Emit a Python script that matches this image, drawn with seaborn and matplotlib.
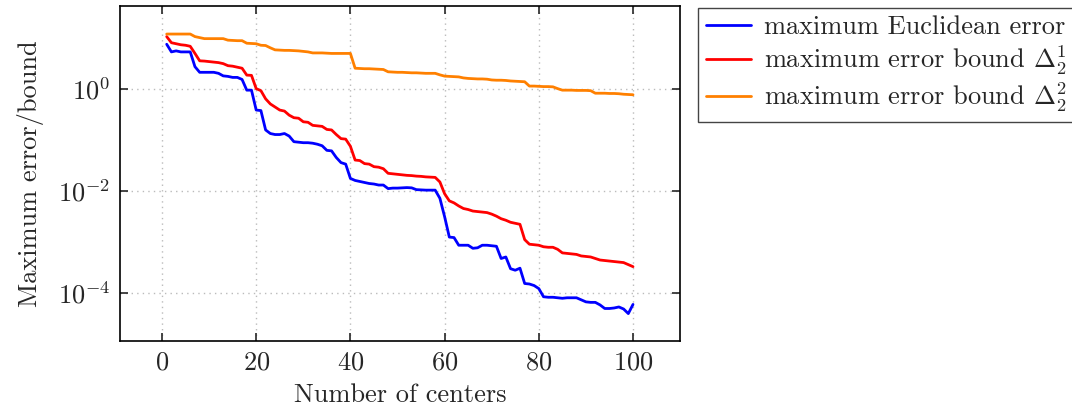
import numpy as np
import pandas as pd
import matplotlib
matplotlib.use("Agg")
import matplotlib.pyplot as plt
import matplotlib.ticker as mticker
import seaborn as sns

# number of centers 1..100
centers = list(range(1, 101))

# values, stored as log10
euclid_log10 = [
    0.87, 0.72, 0.74, 0.72, 0.72, 0.72, 0.43, 0.32, 0.32, 0.32,
    0.32, 0.30, 0.25, 0.24, 0.22, 0.22, 0.18, -0.03, -0.03, -0.42,
    -0.43, -0.81, -0.88, -0.90, -0.90, -0.88, -0.93, -1.04, -1.05, -1.06,
    -1.06, -1.07, -1.09, -1.12, -1.21, -1.22, -1.35, -1.45, -1.48, -1.76,
    -1.80, -1.82, -1.84, -1.86, -1.87, -1.89, -1.89, -1.96, -1.95, -1.95,
    -1.945, -1.94, -1.945, -1.98, -1.985, -1.99, -1.99, -1.99, -2.15, -2.51,
    -2.91, -2.92, -3.07, -3.07, -3.07, -3.13, -3.12, -3.07, -3.07, -3.08,
    -3.09, -3.33, -3.30, -3.53, -3.56, -3.52, -3.82, -3.83, -3.86, -3.92,
    -4.08, -4.09, -4.09, -4.10, -4.11, -4.10, -4.10, -4.10, -4.14, -4.18,
    -4.19, -4.19, -4.24, -4.31, -4.31, -4.30, -4.28, -4.32, -4.41, -4.23,
]
bound1_log10 = [
    1.02, 0.90, 0.88, 0.86, 0.85, 0.83, 0.69, 0.545, 0.54, 0.53,
    0.52, 0.51, 0.49, 0.45, 0.44, 0.42, 0.40, 0.265, 0.26, 0.0,
    -0.04, -0.20, -0.30, -0.36, -0.42, -0.44, -0.52, -0.57, -0.58, -0.65,
    -0.66, -0.72, -0.73, -0.74, -0.80, -0.81, -0.90, -0.98, -0.99, -1.13,
    -1.40, -1.41, -1.47, -1.48, -1.53, -1.54, -1.57, -1.66, -1.67, -1.68,
    -1.69, -1.70, -1.705, -1.715, -1.72, -1.73, -1.735, -1.74, -1.83, -2.06,
    -2.20, -2.24, -2.30, -2.35, -2.37, -2.40, -2.41, -2.42, -2.43, -2.46,
    -2.50, -2.55, -2.58, -2.62, -2.64, -2.66, -2.96, -3.05, -3.06, -3.07,
    -3.10, -3.11, -3.11, -3.15, -3.22, -3.23, -3.24, -3.25, -3.28, -3.29,
    -3.30, -3.33, -3.36, -3.37, -3.38, -3.39, -3.40, -3.41, -3.45, -3.49,
]
bound2_log10 = [
    1.07, 1.07, 1.07, 1.07, 1.07, 1.07, 1.02, 1.00, 0.98, 0.98,
    0.98, 0.98, 0.98, 0.95, 0.945, 0.94, 0.94, 0.89, 0.885, 0.88,
    0.85, 0.845, 0.80, 0.76, 0.755, 0.75, 0.75, 0.745, 0.74, 0.73,
    0.72, 0.70, 0.70, 0.70, 0.695, 0.69, 0.69, 0.69, 0.69, 0.69,
    0.40, 0.395, 0.39, 0.39, 0.385, 0.38, 0.375, 0.33, 0.325, 0.32,
    0.32, 0.315, 0.31, 0.31, 0.305, 0.30, 0.30, 0.30, 0.27, 0.245,
    0.24, 0.235, 0.23, 0.21, 0.20, 0.195, 0.19, 0.19, 0.185, 0.17,
    0.165, 0.165, 0.16, 0.15, 0.145, 0.14, 0.135, 0.05, 0.05, 0.045,
    0.04, 0.04, 0.035, 0.0, -0.03, -0.03, -0.03, -0.035, -0.035, -0.035,
    -0.04, -0.09, -0.09, -0.09, -0.095, -0.095, -0.10, -0.11, -0.115, -0.12,
]

labels = [
    "maximum Euclidean error",
    r"maximum error bound $\Delta_2^1$",
    r"maximum error bound $\Delta_2^2$",
]
colors = ["#0000ff", "#ff0000", "#ff8000"]

frames = []
for lab, vals in zip(labels, [euclid_log10, bound1_log10, bound2_log10]):
    frames.append(pd.DataFrame({"centers": centers,
                                "value": 10.0 ** np.array(vals),
                                "series": lab}))
df = pd.concat(frames, ignore_index=True)

sns.set_style("ticks")
plt.rcParams["font.family"] = ["cmr10", "DejaVu Serif"]
plt.rcParams["mathtext.fontset"] = "cm"
plt.rcParams["axes.formatter.use_mathtext"] = True
plt.rcParams["axes.unicode_minus"] = False

fs = 19

fig = plt.figure(figsize=(10.72, 4.13), dpi=100)
ax = fig.add_axes([0.112, 0.174, 0.522, 0.8115])

sns.lineplot(data=df, x="centers", y="value", hue="series",
             palette=colors, linewidth=2.0, ax=ax, legend=False)

ax.set_yscale("log")
ax.set_xlim(-8.9, 109.9)
ax.set_ylim(10 ** -4.95, 10 ** 1.62)
ax.set_xticks([0, 20, 40, 60, 80, 100])
ax.set_yticks([1e0, 1e-2, 1e-4])
ax.yaxis.set_minor_locator(mticker.NullLocator())
ax.yaxis.set_major_formatter(mticker.LogFormatterSciNotation())

ax.grid(True, which="major", color="#bbbbbb", linestyle=(0, (1, 3)), linewidth=1.0)
ax.tick_params(axis="both", which="major", direction="in", length=6, width=1.2,
               top=True, right=True, labelsize=fs, pad=7)
for sp in ax.spines.values():
    sp.set_linewidth(1.2)
    sp.set_color("black")

ax.set_xlabel("Number of centers", fontsize=fs, labelpad=6)
ax.set_ylabel("Maximum error/bound", fontsize=fs, labelpad=10)

handles = [plt.Line2D([], [], color=c, linewidth=2.0) for c in colors]
leg = fig.legend(handles, labels, loc="upper left",
                 bbox_to_anchor=(0.651, 0.981), fontsize=fs,
                 frameon=True, fancybox=False, framealpha=1,
                 edgecolor="#444444", borderaxespad=0, handlelength=1.7,
                 handletextpad=0.5, labelspacing=0.15, borderpad=0.3)
leg.get_frame().set_linewidth(1.0)

fig.savefig("out.png", dpi=100)
